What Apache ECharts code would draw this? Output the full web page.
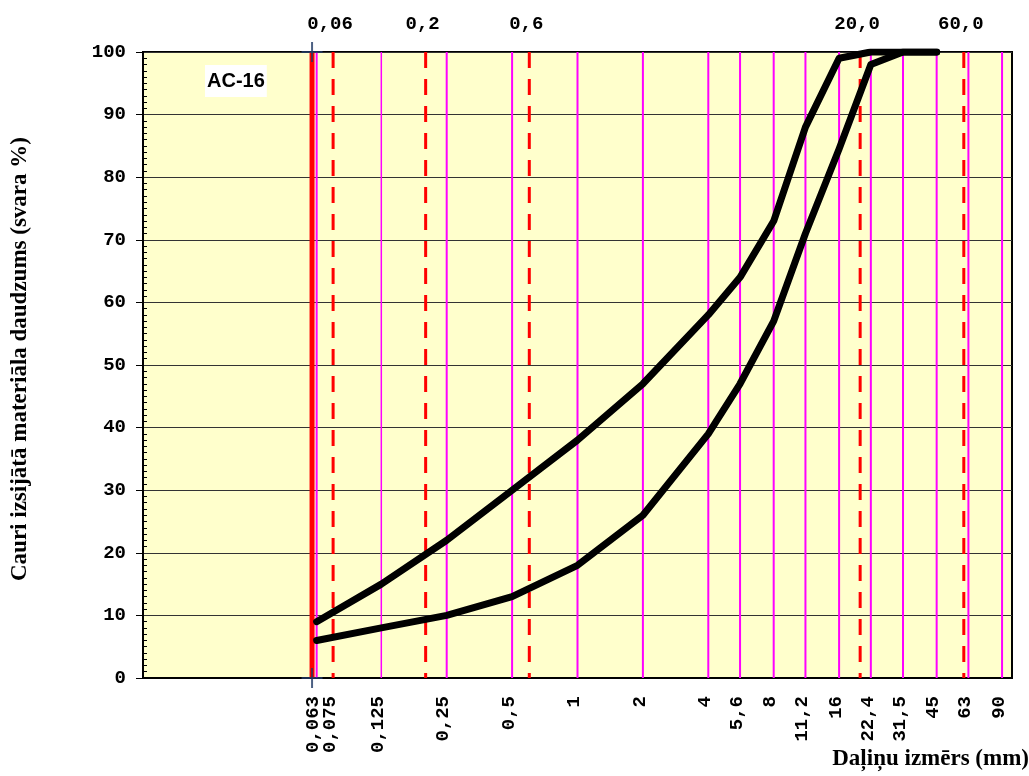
<!DOCTYPE html>
<html>
<head>
<meta charset="utf-8">
<script src="https://cdn.jsdelivr.net/npm/echarts@6/dist/echarts.min.js"></script>
<style>
  html, body { margin: 0; padding: 0; background: #fff; }
  #chart { width: 1029px; height: 776px; }
</style>
</head>
<body>
<div id="chart"></div>
<script>
// sieve sizes (mm) and their axis labels
const sieveSizes = [0.063, 0.075, 0.125, 0.25, 0.5, 1, 2, 4, 5.6, 8, 11.2, 16, 22.4, 31.5, 45, 63, 90]
const sieveLabels = ['0,063', '0,075', '0,125', '0,25', '0,5', '1', '2', '4', '5,6', '8', '11,2', '16', '22,4', '31,5', '45', '63', '90']
// magenta sieve lines (0.075 sits under the red dashed line)
const sieveLines = [0.063, 0.125, 0.25, 0.5, 1, 2, 4, 5.6, 8, 11.2, 16, 22.4, 31.5, 45, 63, 90]

// red dashed limit lines and their top labels
const limitSizes = [0.075, 0.2, 0.6, 20, 60]
const limitLabels = ['0,06', '0,2', '0,6', '20,0', '60,0']
const cutoffSize = 0.06

// grading envelope for AC-16
const curveSizes = [0.063, 0.125, 0.25, 0.5, 1, 2, 4, 5.6, 8, 11.2, 16, 22.4, 31.5, 45]
const upperPassing = [9, 15, 22, 30, 38, 47, 58, 64, 73, 88, 99, 100, 100, 100]
const lowerPassing = [6, 8, 10, 13, 18, 26, 39, 47, 57, 71, 84.5, 98, 100, 100]

const monoFont = 'bold 19px "Liberation Mono", monospace'
const serifFont = 'bold 23px "Liberation Serif", "Times New Roman", serif'

const chart = echarts.init(document.getElementById('chart'))

// vertical line from top of plot to bottom, through the axis scales
const vLine = (style) => (params, api) => {
  const top = api.coord([api.value(0), 100])
  const bottom = api.coord([api.value(0), 0])
  return {
    type: 'line',
    shape: { x1: top[0], y1: top[1], x2: bottom[0], y2: bottom[1] },
    style: typeof style === 'function' ? style(api.value(0)) : style,
  }
}

const option = {
  animation: false,
  backgroundColor: '#fff',
  title: {
    text: 'AC-16',
    left: 205,
    top: 65,
    padding: [6, 2],
    backgroundColor: '#fff',
    textStyle: { fontFamily: 'Liberation Sans, Arial', fontWeight: 'bold', fontSize: 20, color: '#000' },
  },
  grid: {
    left: 143,
    right: 17,
    top: 52,
    bottom: 98,
    show: true,
    backgroundColor: '#FFFFCC',
    borderColor: '#000',
    borderWidth: 2,
  },
  xAxis: {
    type: 'log',
    logBase: 10,
    min: 0.01,
    max: 100,
    axisLine: { lineStyle: { color: '#000', width: 2 } },
    axisTick: { show: false },
    axisLabel: { show: false },
    splitLine: { show: false },
  },
  yAxis: [
    {
      type: 'value',
      min: 0,
      max: 100,
      interval: 10,
      axisLine: { show: true, lineStyle: { color: '#000', width: 2 } },
      axisTick: { show: true, length: 7, lineStyle: { color: '#000', width: 1 } },
      axisLabel: { margin: 17, color: '#000', fontFamily: 'Liberation Mono', fontWeight: 'bold', fontSize: 19 },
      splitLine: { show: true, lineStyle: { color: '#333', width: 1 } },
    },
    {
      type: 'value',
      min: 0,
      max: 100,
      interval: 10,
      position: 'left',
      offset: 0,
      axisLine: { show: false },
      axisTick: { show: false, inside: true },
      axisLabel: { show: false },
      splitLine: { show: false },
      minorTick: { show: true, splitNumber: 10, length: 4, lineStyle: { color: '#000', width: 1 } },
    },
  ],
  graphic: [
    {
      type: 'text',
      x: 20,
      y: 359,
      rotation: Math.PI / 2,
      style: {
        text: 'Cauri izsijātā materiāla daudzums (svara %)',
        font: serifFont,
        fill: '#000',
        align: 'center',
        verticalAlign: 'middle',
      },
    },
    {
      type: 'text',
      right: 0,
      top: 748,
      style: {
        text: 'Daļiņu izmērs (mm)',
        font: serifFont,
        fill: '#000',
      },
    },
  ],
  series: [
    {
      // magenta sieve lines
      type: 'custom',
      silent: true,
      z: 2,
      data: sieveLines.map((v) => [v, 0]),
      renderItem: vLine((v) => ({ stroke: '#FF00FF', lineWidth: v === 0.125 ? 1.5 : 2 })),
    },
    {
      // red dashed limit lines
      type: 'custom',
      silent: true,
      z: 3,
      data: limitSizes.map((v) => [v, 0]),
      renderItem: vLine({ stroke: '#FF0000', lineWidth: 3, lineDash: [16, 11] }),
    },
    {
      // red cutoff line
      type: 'custom',
      silent: true,
      z: 3,
      data: [[cutoffSize, 0]],
      renderItem: vLine({ stroke: '#FF0000', lineWidth: 5 }),
    },
    {
      name: 'upper',
      type: 'line',
      data: curveSizes.map((s, i) => [s, upperPassing[i]]),
      showSymbol: false,
      z: 5,
      lineStyle: { color: '#000', width: 7, join: 'round', cap: 'round' },
    },
    {
      name: 'lower',
      type: 'line',
      data: curveSizes.map((s, i) => [s, lowerPassing[i]]),
      showSymbol: false,
      z: 5,
      lineStyle: { color: '#000', width: 7, join: 'round', cap: 'round' },
    },
    {
      // blue crosses where the cutoff meets the frame
      type: 'scatter',
      data: [[cutoffSize, 0], [cutoffSize, 100]],
      symbol: 'rect',
      symbolSize: [21, 2],
      clip: false,
      silent: true,
      z: 6,
      itemStyle: { color: '#1F3864' },
    },
    {
      type: 'scatter',
      data: [[cutoffSize, 0], [cutoffSize, 100]],
      symbol: 'rect',
      symbolSize: [2, 20],
      clip: false,
      silent: true,
      z: 6,
      itemStyle: { color: '#1F3864' },
    },
    {
      // rotated sieve labels under the axis
      type: 'custom',
      clip: false,
      silent: true,
      data: sieveSizes.map((s, i) => [s, i]),
      renderItem: (params, api) => {
        const pt = api.coord([api.value(0), 0])
        return {
          type: 'text',
          x: pt[0] - 3,
          y: pt[1] + 18,
          rotation: Math.PI / 2,
          style: { text: sieveLabels[api.value(1)], font: monoFont, fill: '#000', align: 'right', verticalAlign: 'middle' },
        }
      },
    },
    {
      // limit labels above the plot
      type: 'custom',
      clip: false,
      silent: true,
      data: limitSizes.map((s, i) => [s, i]),
      renderItem: (params, api) => {
        const pt = api.coord([api.value(0), 100])
        return {
          type: 'text',
          x: pt[0] - 3,
          y: pt[1] - 28,
          style: { text: limitLabels[api.value(1)], font: monoFont, fill: '#000', align: 'center', verticalAlign: 'middle' },
        }
      },
    },
  ],
}

chart.setOption(option)
window.addEventListener('resize', () => chart.resize())
</script>
</body>
</html>
